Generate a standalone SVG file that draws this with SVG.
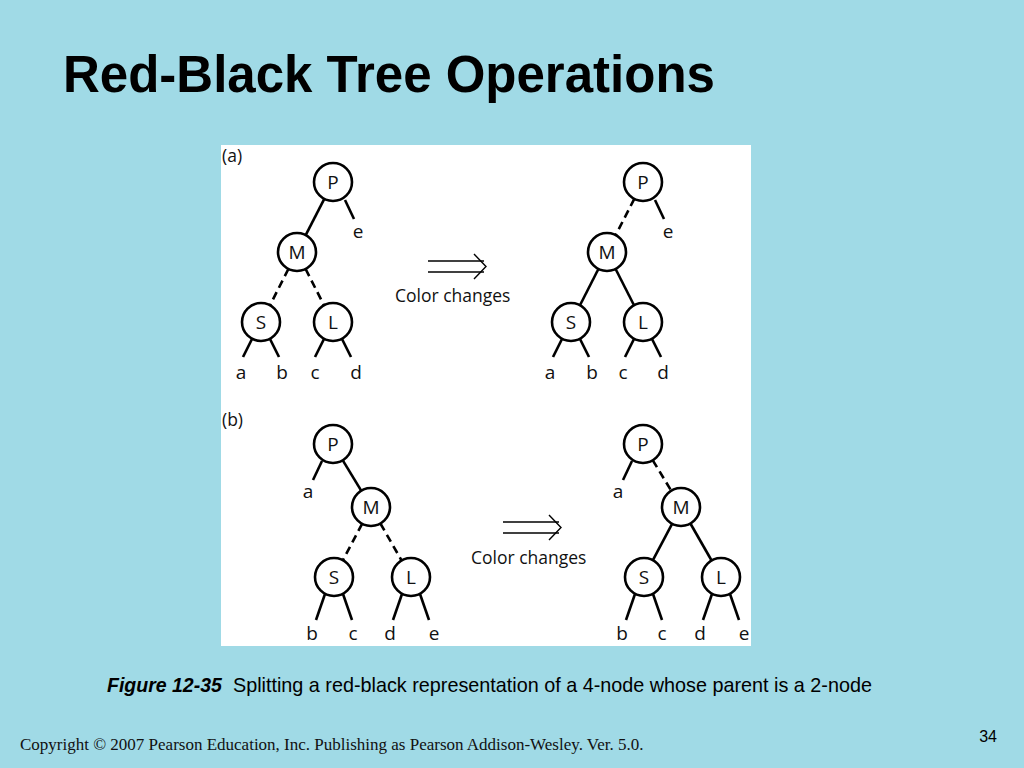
<svg xmlns="http://www.w3.org/2000/svg" width="1024" height="768" viewBox="0 0 1024 768">
<style>
.node circle{fill:#fff;stroke:#000;stroke-width:2.6}
.node text,.lbl{font-family:"Open Sans","Noto Sans",sans-serif;font-size:19px;fill:#111;text-anchor:middle}
.edge{stroke:#000;stroke-width:2.6;fill:none;stroke-linecap:butt}
.dash{stroke-dasharray:8 5}
.arr{stroke:#000;stroke-width:1.4;fill:none}
.cap{font-family:"Open Sans","Noto Sans",sans-serif;font-size:17.5px;fill:#111}
</style>
<rect width="1024" height="768" fill="#A0DAE6"/>
<text x="63" y="92" font-family="Liberation Sans,Arial,sans-serif" font-weight="bold" font-size="51" fill="#000">Red-Black Tree Operations</text>
<rect x="221" y="145" width="530" height="501" fill="#fff"/>
<text class="cap" x="222" y="162" font-size="18">(a)</text>
<text class="cap" x="222" y="426" font-size="18">(b)</text>

<g id="connectors">
<!-- (a) left -->
<line class="edge" x1="324.3" y1="198.9" x2="305.7" y2="235.1"/>
<line class="edge" x1="345" y1="200" x2="354" y2="219"/>
<line class="edge dash" x1="288.4" y1="269" x2="269.6" y2="306"/>
<line class="edge dash" x1="305.6" y1="269" x2="324.4" y2="306"/>
<line class="edge" x1="252" y1="339" x2="243" y2="357"/>
<line class="edge" x1="270" y1="339" x2="279" y2="357"/>
<line class="edge" x1="324" y1="339" x2="315" y2="357"/>
<line class="edge" x1="342" y1="339" x2="351" y2="357"/>
<!-- (a) right -->
<line class="edge dash" x1="634.3" y1="198.9" x2="615.7" y2="235.1"/>
<line class="edge" x1="655" y1="200" x2="664" y2="219"/>
<line class="edge" x1="598.4" y1="269" x2="579.6" y2="306"/>
<line class="edge" x1="615.6" y1="269" x2="634.4" y2="306"/>
<line class="edge" x1="562" y1="339" x2="553" y2="357"/>
<line class="edge" x1="580" y1="339" x2="589" y2="357"/>
<line class="edge" x1="634" y1="339" x2="625" y2="357"/>
<line class="edge" x1="652" y1="339" x2="661" y2="357"/>
<!-- (b) left -->
<line class="edge" x1="342.8" y1="460.3" x2="361.2" y2="490.7"/>
<line class="edge" x1="322" y1="461" x2="313" y2="480"/>
<line class="edge dash" x1="362.1" y1="523.8" x2="342.9" y2="560.2"/>
<line class="edge dash" x1="380.4" y1="523.5" x2="401.6" y2="560.5"/>
<line class="edge" x1="325" y1="594" x2="316" y2="620"/>
<line class="edge" x1="343" y1="594" x2="352" y2="620"/>
<line class="edge" x1="402" y1="594" x2="393" y2="620"/>
<line class="edge" x1="420" y1="594" x2="429" y2="620"/>
<!-- (b) right -->
<line class="edge dash" x1="652.8" y1="460.3" x2="671.2" y2="490.7"/>
<line class="edge" x1="632" y1="461" x2="623" y2="480"/>
<line class="edge" x1="672.1" y1="523.8" x2="652.9" y2="560.2"/>
<line class="edge" x1="690.4" y1="523.5" x2="711.6" y2="560.5"/>
<line class="edge" x1="635" y1="594" x2="626" y2="620"/>
<line class="edge" x1="653" y1="594" x2="662" y2="620"/>
<line class="edge" x1="712" y1="594" x2="703" y2="620"/>
<line class="edge" x1="730" y1="594" x2="739" y2="620"/>
<!-- transform arrows -->
<g id="arrow-a">
<line class="arr" x1="428" y1="261" x2="484" y2="261"/>
<line class="arr" x1="428" y1="272" x2="484" y2="272"/>
<polyline class="arr" points="474,254 486,266.5 474,279"/>
</g>
<g id="arrow-b">
<line class="arr" x1="503" y1="522" x2="559" y2="522"/>
<line class="arr" x1="503" y1="533" x2="559" y2="533"/>
<polyline class="arr" points="549,515 561,527.5 549,540"/>
</g>
</g>

<text class="cap" x="395" y="302">Color changes</text>
<text class="cap" x="471" y="564">Color changes</text>

<!-- (a) left nodes -->
<g id="a1-P" class="node"><circle cx="333" cy="182" r="19"/><text x="333" y="189">P</text></g>
<g id="a1-M" class="node"><circle cx="297" cy="252" r="19"/><text x="297" y="259">M</text></g>
<g id="a1-S" class="node"><circle cx="261" cy="322" r="19"/><text x="261" y="329">S</text></g>
<g id="a1-L" class="node"><circle cx="333" cy="322" r="19"/><text x="333" y="329">L</text></g>
<g id="a1-leaves">
<text class="lbl" x="358" y="238">e</text>
<text class="lbl" x="241" y="379">a</text>
<text class="lbl" x="282" y="379">b</text>
<text class="lbl" x="315" y="379">c</text>
<text class="lbl" x="356" y="379">d</text>
</g>
<!-- (a) right nodes -->
<g id="a2-P" class="node"><circle cx="643" cy="182" r="19"/><text x="643" y="189">P</text></g>
<g id="a2-M" class="node"><circle cx="607" cy="252" r="19"/><text x="607" y="259">M</text></g>
<g id="a2-S" class="node"><circle cx="571" cy="322" r="19"/><text x="571" y="329">S</text></g>
<g id="a2-L" class="node"><circle cx="643" cy="322" r="19"/><text x="643" y="329">L</text></g>
<g id="a2-leaves">
<text class="lbl" x="668" y="238">e</text>
<text class="lbl" x="550" y="379">a</text>
<text class="lbl" x="592" y="379">b</text>
<text class="lbl" x="623" y="379">c</text>
<text class="lbl" x="663" y="379">d</text>
</g>
<!-- (b) left nodes -->
<g id="b1-P" class="node"><circle cx="333" cy="444" r="19"/><text x="333" y="451">P</text></g>
<g id="b1-M" class="node"><circle cx="371" cy="507" r="19"/><text x="371" y="514">M</text></g>
<g id="b1-S" class="node"><circle cx="334" cy="577" r="19"/><text x="334" y="584">S</text></g>
<g id="b1-L" class="node"><circle cx="411" cy="577" r="19"/><text x="411" y="584">L</text></g>
<g id="b1-leaves">
<text class="lbl" x="308" y="498">a</text>
<text class="lbl" x="312" y="640">b</text>
<text class="lbl" x="353" y="640">c</text>
<text class="lbl" x="390" y="640">d</text>
<text class="lbl" x="434" y="640">e</text>
</g>
<!-- (b) right nodes -->
<g id="b2-P" class="node"><circle cx="643" cy="444" r="19"/><text x="643" y="451">P</text></g>
<g id="b2-M" class="node"><circle cx="681" cy="507" r="19"/><text x="681" y="514">M</text></g>
<g id="b2-S" class="node"><circle cx="644" cy="577" r="19"/><text x="644" y="584">S</text></g>
<g id="b2-L" class="node"><circle cx="721" cy="577" r="19"/><text x="721" y="584">L</text></g>
<g id="b2-leaves">
<text class="lbl" x="618" y="498">a</text>
<text class="lbl" x="622" y="640">b</text>
<text class="lbl" x="662" y="640">c</text>
<text class="lbl" x="700" y="640">d</text>
<text class="lbl" x="744" y="640">e</text>
</g>

<text x="107" y="692" font-family="Liberation Sans,Arial,sans-serif" font-size="19.8" fill="#000"><tspan font-weight="bold" font-style="italic" font-size="19.5">Figure 12-35</tspan><tspan x="233">Splitting a red-black representation of a 4-node whose parent is a 2-node</tspan></text>
<text x="20" y="750" font-family="Liberation Serif,Times New Roman,serif" font-size="17" fill="#111">Copyright © 2007 Pearson Education, Inc. Publishing as Pearson Addison-Wesley. Ver. 5.0.</text>
<text x="997" y="742" text-anchor="end" font-family="Liberation Sans,Arial,sans-serif" font-size="16" fill="#000">34</text>
</svg>
